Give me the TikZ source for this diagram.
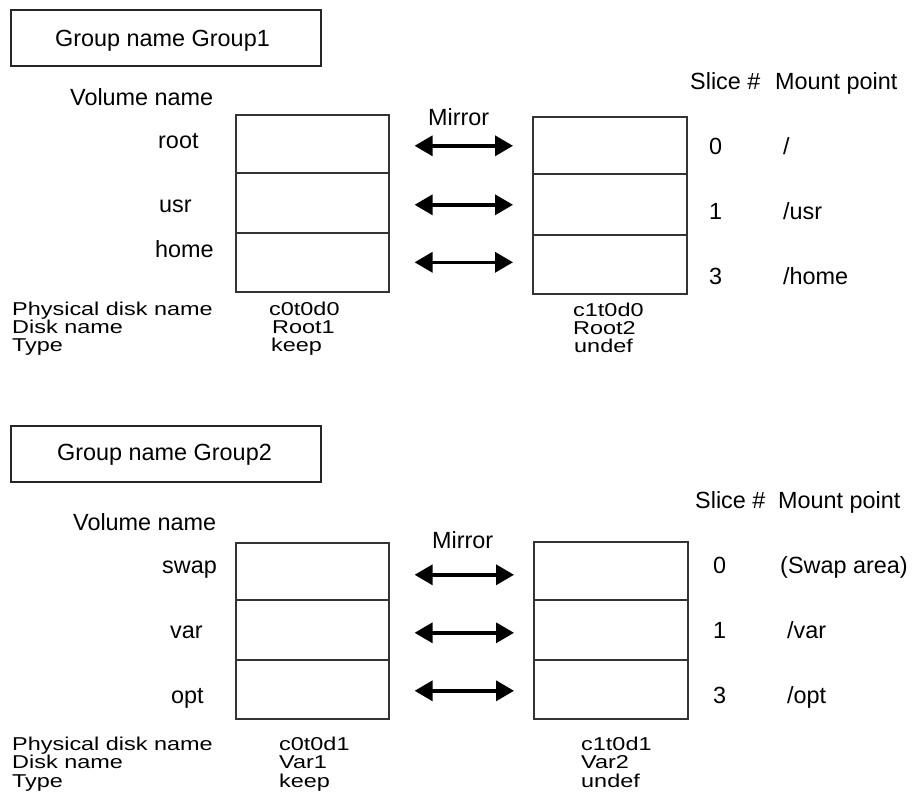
\documentclass[tikz,border=0pt]{standalone}
\usepackage{fontspec}
\usepackage{graphicx}
\setmainfont{Liberation Sans}
\newfontfamily\squashfont[FakeStretch=1.26]{Liberation Sans}
\usetikzlibrary{arrows.meta}
\tikzset{
  lbl/.style={inner sep=0pt, anchor=base west, font=\fontsize{23.4}{26}\selectfont},
  sq/.style={inner sep=0pt, anchor=base west, font=\squashfont\fontsize{18.6}{19}\selectfont},
  titlebox/.style={draw=black!85, line width=1.8pt, inner sep=0pt, minimum width=310pt, minimum height=56pt, anchor=north west},
  slicebox/.style={draw=black!80, line width=1.6pt, inner sep=0pt, minimum width=153pt, anchor=north west},
  mirr/.style={line width=3.5pt, {Triangle[length=18pt,width=20pt]}-{Triangle[length=18pt,width=20pt]}, shorten <=25pt, shorten >=19pt}
}
\begin{document}
\begin{tikzpicture}[x=1pt,y=-1pt]
\useasboundingbox (0,0) rectangle (913,798);
% ---------------- Group 1 ----------------
\node[titlebox] (g1box) at (10,9) {};
\node[lbl] (g1title) at (55,46) {Group name Group1};
\node[lbl] (g1vol) at (70,105) {Volume name};
\node[lbl] (g1root) at (158,148) {root};
\node[lbl] (g1usr) at (159,212) {usr};
\node[lbl] (g1home) at (155,257) {home};
\node[slicebox, minimum height=58pt] (L11) at (235,114) {};
\node[slicebox, minimum height=60pt] (L12) at (235,172) {};
\node[slicebox, minimum height=59pt] (L13) at (235,232) {};
\node[slicebox, minimum height=57pt, minimum width=154pt] (R11) at (532,116) {};
\node[slicebox, minimum height=61pt, minimum width=154pt] (R12) at (532,173) {};
\node[slicebox, minimum height=59pt, minimum width=154pt] (R13) at (532,234) {};
\node[lbl] (g1mirror) at (428,125) {Mirror};
\draw[mirr] ([yshift=-2pt]L11.east) -- ([yshift=-2pt]L11.east -| R11.west);
\draw[mirr] ([yshift=-2pt]L12.east) -- ([yshift=-2pt]L12.east -| R12.west);
\draw[mirr] (L13.east) -- (L13.east -| R13.west);
\node[lbl] (g1slice) at (690,89) {Slice \#};
\node[lbl] (g1mount) at (775,89) {Mount point};
\node[lbl] (g1s0) at (709,154) {0};
\node[lbl] (g1s1) at (709,219) {1};
\node[lbl] (g1s3) at (709,284) {3};
\node[lbl] (g1m0) at (783,154) {/};
\node[lbl] (g1m1) at (783,219) {/usr};
\node[lbl] (g1m3) at (783,284) {/home};
\node[sq] (g1pdn) at (12,315) {Physical disk name};
\node[sq] (g1dn) at (12,333) {Disk name};
\node[sq] (g1ty) at (12,351) {Type};
\node[sq] (g1lp) at (269,315) {c0t0d0};
\node[sq] (g1ld) at (272,333) {Root1};
\node[sq] (g1lt) at (271,351) {keep};
\node[sq] (g1rp) at (573,316) {c1t0d0};
\node[sq] (g1rd) at (573,334) {Root2};
\node[sq] (g1rt) at (574,352) {undef};
% ---------------- Group 2 ----------------
\node[titlebox] (g2box) at (10,425) {};
\node[lbl] (g2title) at (57,460) {Group name Group2};
\node[lbl] (g2vol) at (73,530) {Volume name};
\node[lbl] (g2swap) at (162,573) {swap};
\node[lbl] (g2var) at (170,638) {var};
\node[lbl] (g2opt) at (171,703) {opt};
\node[slicebox, minimum height=57pt] (L21) at (235,542) {};
\node[slicebox, minimum height=60pt] (L22) at (235,599) {};
\node[slicebox, minimum height=59pt] (L23) at (235,659) {};
\node[slicebox, minimum height=58pt, minimum width=154pt] (R21) at (533,541) {};
\node[slicebox, minimum height=60pt, minimum width=154pt] (R22) at (533,599) {};
\node[slicebox, minimum height=59pt, minimum width=154pt] (R23) at (533,659) {};
\node[lbl] (g2mirror) at (432,548) {Mirror};
\draw[mirr] ([yshift=-3.5pt]L21.east) -- ([yshift=-3.5pt]L21.east -| R21.west);
\draw[mirr] ([yshift=-3pt]L22.east) -- ([yshift=-3pt]L22.east -| R22.west);
\draw[mirr] ([yshift=-1.5pt]L23.east) -- ([yshift=-1.5pt]L23.east -| R23.west);
\node[lbl] (g2slice) at (695,508) {Slice \#};
\node[lbl] (g2mount) at (778,508) {Mount point};
\node[lbl] (g2s0) at (713,573) {0};
\node[lbl] (g2s1) at (713,638) {1};
\node[lbl] (g2s3) at (713,703) {3};
\node[lbl] (g2m0) at (780,573) {(Swap area)};
\node[lbl] (g2m1) at (787,638) {/var};
\node[lbl] (g2m3) at (787,703) {/opt};
\node[sq] (g2pdn) at (12,750) {Physical disk name};
\node[sq] (g2dn) at (12,768) {Disk name};
\node[sq] (g2ty) at (12,787) {Type};
\node[sq] (g2lp) at (279,750) {c0t0d1};
\node[sq] (g2ld) at (279,768) {Var1};
\node[sq] (g2lt) at (279,787) {keep};
\node[sq] (g2rp) at (581,750) {c1t0d1};
\node[sq] (g2rd) at (581,768) {Var2};
\node[sq] (g2rt) at (581,787) {undef};
\end{tikzpicture}
\end{document}
